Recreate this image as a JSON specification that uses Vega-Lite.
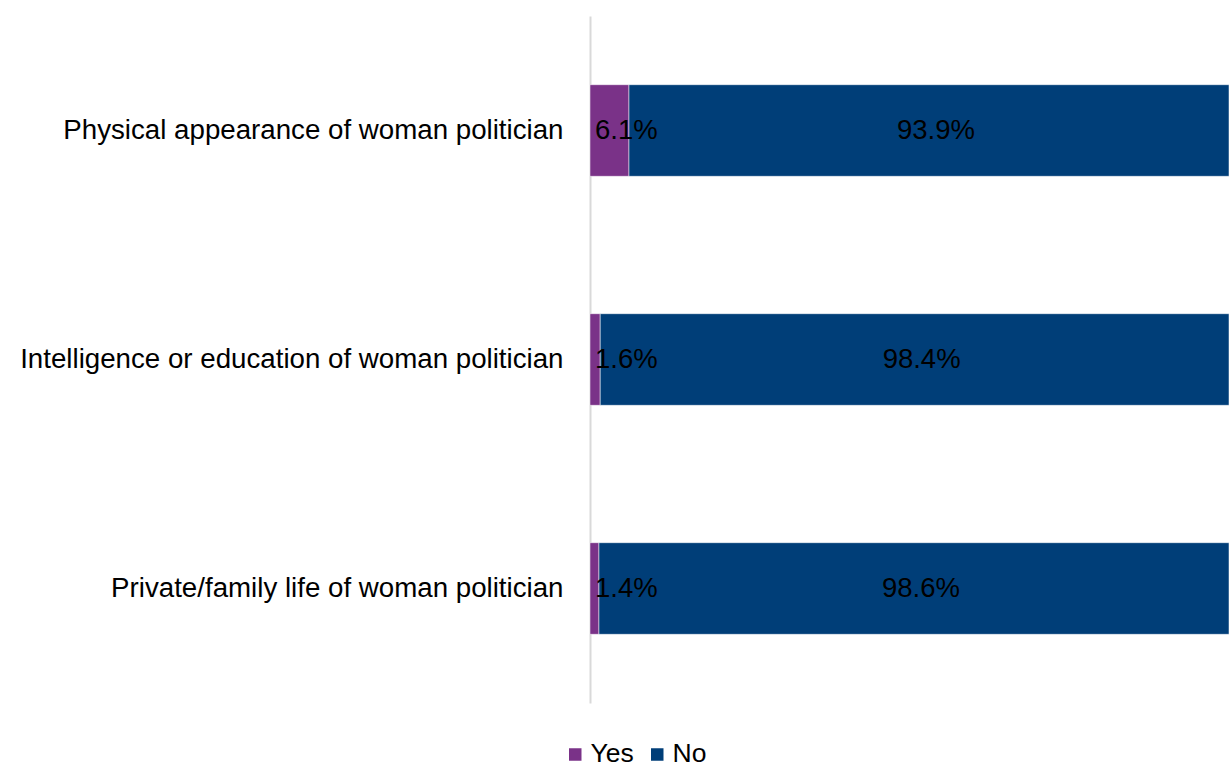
{
  "$schema": "https://vega.github.io/schema/vega-lite/v6.json",
  "width": 639,
  "height": 687,
  "autosize": {"type": "none"},
  "padding": {"left": 590, "top": 16, "right": 0, "bottom": 65},
  "background": "white",
  "config": {"view": {"stroke": null}, "font": "Liberation Sans"},
  "data": {"values": [
    {"topic": "Physical appearance of woman politician", "answer": "Yes", "order": 1, "value": 6.1},
    {"topic": "Physical appearance of woman politician", "answer": "No", "order": 2, "value": 93.9},
    {"topic": "Intelligence or education of woman politician", "answer": "Yes", "order": 1, "value": 1.6},
    {"topic": "Intelligence or education of woman politician", "answer": "No", "order": 2, "value": 98.4},
    {"topic": "Private/family life of woman politician", "answer": "Yes", "order": 1, "value": 1.4},
    {"topic": "Private/family life of woman politician", "answer": "No", "order": 2, "value": 98.6}
  ]},
  "transform": [
    {"stack": "value", "groupby": ["topic"], "sort": [{"field": "order"}], "as": ["x0", "x1"]},
    {"calculate": "format(datum.value, '.1f') + '%'", "as": "label"}
  ],
  "encoding": {
    "y": {
      "field": "topic", "type": "nominal",
      "sort": ["Physical appearance of woman politician", "Intelligence or education of woman politician", "Private/family life of woman politician"],
      "scale": {"paddingInner": 0.6, "paddingOuter": 0.3},
      "axis": {"title": null, "ticks": false, "domainColor": "#d9d9d9", "domainWidth": 2, "labelFontSize": 27.7, "labelColor": "#000000", "labelPadding": 27, "labelLimit": 600}
    }
  },
  "layer": [
    {
      "mark": {"type": "bar", "stroke": "white", "strokeWidth": 0.5},
      "encoding": {
        "x": {"field": "x0", "type": "quantitative", "scale": {"domain": [0, 100], "nice": false}, "axis": null},
        "x2": {"field": "x1"},
        "color": {
          "field": "answer", "type": "nominal",
          "scale": {"domain": ["Yes", "No"], "range": ["#7a3288", "#003e78"]},
          "legend": {"title": null, "orient": "none", "legendX": -28, "legendY": 725, "direction": "horizontal", "symbolType": "square", "symbolSize": 196, "labelFontSize": 26.5, "labelColor": "#000000", "columnPadding": 10, "symbolOffset": 0, "labelOffset": 2}
        }
      }
    },
    {
      "transform": [{"filter": "datum.answer === 'Yes'"}],
      "mark": {"type": "text", "align": "left", "baseline": "middle", "dx": 5, "fontSize": 27.5, "color": "#000000"},
      "encoding": {
        "x": {"field": "x0", "type": "quantitative"},
        "text": {"field": "label"}
      }
    },
    {
      "transform": [{"filter": "datum.answer === 'No'"}, {"calculate": "(datum.x0 + datum.x1) / 2", "as": "mid"}],
      "mark": {"type": "text", "align": "center", "baseline": "middle", "dx": 7, "fontSize": 27.5, "color": "#000000"},
      "encoding": {
        "x": {"field": "mid", "type": "quantitative"},
        "text": {"field": "label"}
      }
    }
  ]
}
